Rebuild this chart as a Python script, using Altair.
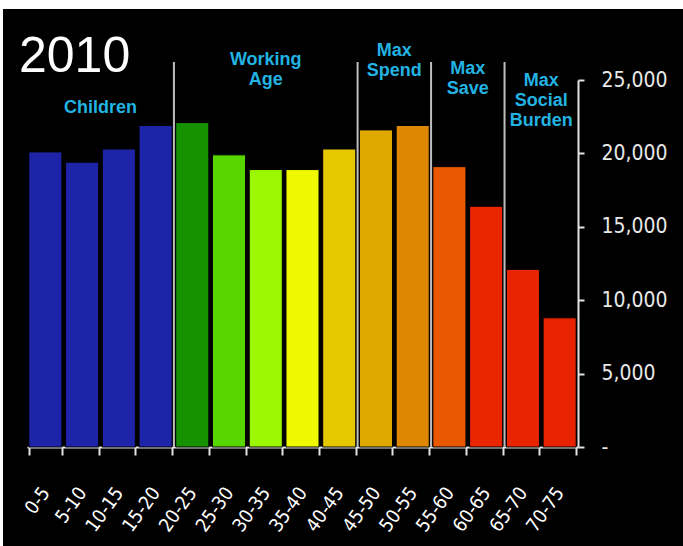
import altair as alt
import pandas as pd

# ---------------- data ----------------
ages = ["0-5", "5-10", "10-15", "15-20", "20-25", "25-30", "30-35", "35-40",
        "40-45", "45-50", "50-55", "55-60", "60-65", "65-70", "70-75"]
population = [20100, 19400, 20300, 21900, 22100, 19900, 18900, 18900,
              20300, 21600, 21900, 19100, 16400, 12100, 8800]
bar_colors = ["#1d24a8", "#1d24a8", "#1d24a8", "#1d24a8", "#169200", "#57d600",
              "#9cf800", "#eff800", "#e6c800", "#e0a900", "#dd8800", "#ea5800",
              "#e92600", "#e92400", "#e92200"]
group_names = ["Children", "Working\nAge", "Max\nSpend", "Max\nSave", "Max\nSocial\nBurden"]
group_starts = [0, 4, 9, 11, 13]
group_ends = [4, 9, 11, 13, 15]
year_label = "2010"
y_ticks = [0, 5000, 10000, 15000, 20000, 25000]

# ---------------- layout / style ----------------
W, H = 551, 367
PAD = {"left": 27, "top": 80, "right": 105, "bottom": 99}
group_first_baseline = [33, -15, -24, -6, 6]   # pixel offsets within plot area
CYAN = "#22b3e3"
AXIS_GRAY = "#e2e2e2"
NARROW = "Liberation Sans Narrow, DejaVu Sans Condensed, Liberation Sans, sans-serif"

df = pd.DataFrame({"age": ages, "population": population})
n = len(ages)

bars = alt.Chart(df).mark_bar(stroke="#000000", strokeWidth=1).encode(
    x=alt.X("age:N", sort=ages,
            scale=alt.Scale(paddingInner=0.1, paddingOuter=0.05),
            axis=alt.Axis(title=None, domainColor=AXIS_GRAY, domainWidth=2,
                          tickColor=AXIS_GRAY, tickWidth=2, tickSize=8,
                          tickBand="extent", labelAngle=306, labelAlign="right",
                          labelBaseline="middle", labelColor="#ffffff",
                          labelFontSize=19, labelFont=NARROW, labelPadding=34,
                          grid=False)),
    y=alt.Y("population:Q",
            scale=alt.Scale(domain=[0, 25000], nice=False),
            axis=alt.Axis(orient="right", title=None, values=y_ticks,
                          domainColor=AXIS_GRAY, domainWidth=2,
                          tickColor=AXIS_GRAY, tickWidth=2, tickSize=6,
                          labelColor="#e8e8e8", labelFontSize=21, labelFont=NARROW,
                          labelPadding=17, grid=False,
                          labelExpr="datum.value == 0 ? '-' : format(datum.value, ',')")),
    color=alt.Color("age:N", scale=alt.Scale(domain=ages, range=bar_colors), legend=None),
)

sep_df = pd.DataFrame({"boundary": group_starts[1:]})
seps = alt.Chart(sep_df).mark_rule(color="#bdbdbd", strokeWidth=2).encode(
    x=alt.X("boundary:Q", scale=alt.Scale(domain=[0, n], nice=False, zero=False), axis=None),
    y=alt.value(-18),
    y2=alt.value(H),
)

label_layers = []
for name, s, e, yb in zip(group_names, group_starts, group_ends, group_first_baseline):
    gdf = pd.DataFrame({"center": [(s + e) / 2], "label": [name]})
    label_layers.append(
        alt.Chart(gdf).mark_text(color=CYAN, font="Liberation Sans", fontWeight="bold",
                                 fontSize=18, lineBreak="\n", lineHeight=20,
                                 align="center", baseline="alphabetic").encode(
            x=alt.X("center:Q", scale=alt.Scale(domain=[0, n], nice=False, zero=False), axis=None),
            y=alt.value(yb),
            text="label:N",
        )
    )

title = alt.Chart(pd.DataFrame({"t": [year_label]})).mark_text(
    color="#ffffff", font="Liberation Sans", fontSize=50, align="left", baseline="alphabetic"
).encode(x=alt.value(-8), y=alt.value(-8), text="t:N")

frame_df = pd.DataFrame({"k": [0]})
frame_top = alt.Chart(frame_df).mark_rect(color="#ffffff").encode(
    x=alt.value(-PAD["left"]), x2=alt.value(W + PAD["right"]),
    y=alt.value(-PAD["top"]), y2=alt.value(-PAD["top"] + 9))
frame_left = alt.Chart(frame_df).mark_rect(color="#ffffff").encode(
    x=alt.value(-PAD["left"]), x2=alt.value(-PAD["left"] + 3),
    y=alt.value(-PAD["top"]), y2=alt.value(H + PAD["bottom"]))

chart = alt.layer(bars, seps, *label_layers, title, frame_top, frame_left).resolve_scale(
    x="independent"
).properties(
    width=W, height=H,
    autosize=alt.AutoSizeParams(type="none"),
    padding=PAD,
    background="#000000",
).configure_view(strokeOpacity=0)

chart.save("out.html", embed_options={"renderer": "svg", "actions": False})
